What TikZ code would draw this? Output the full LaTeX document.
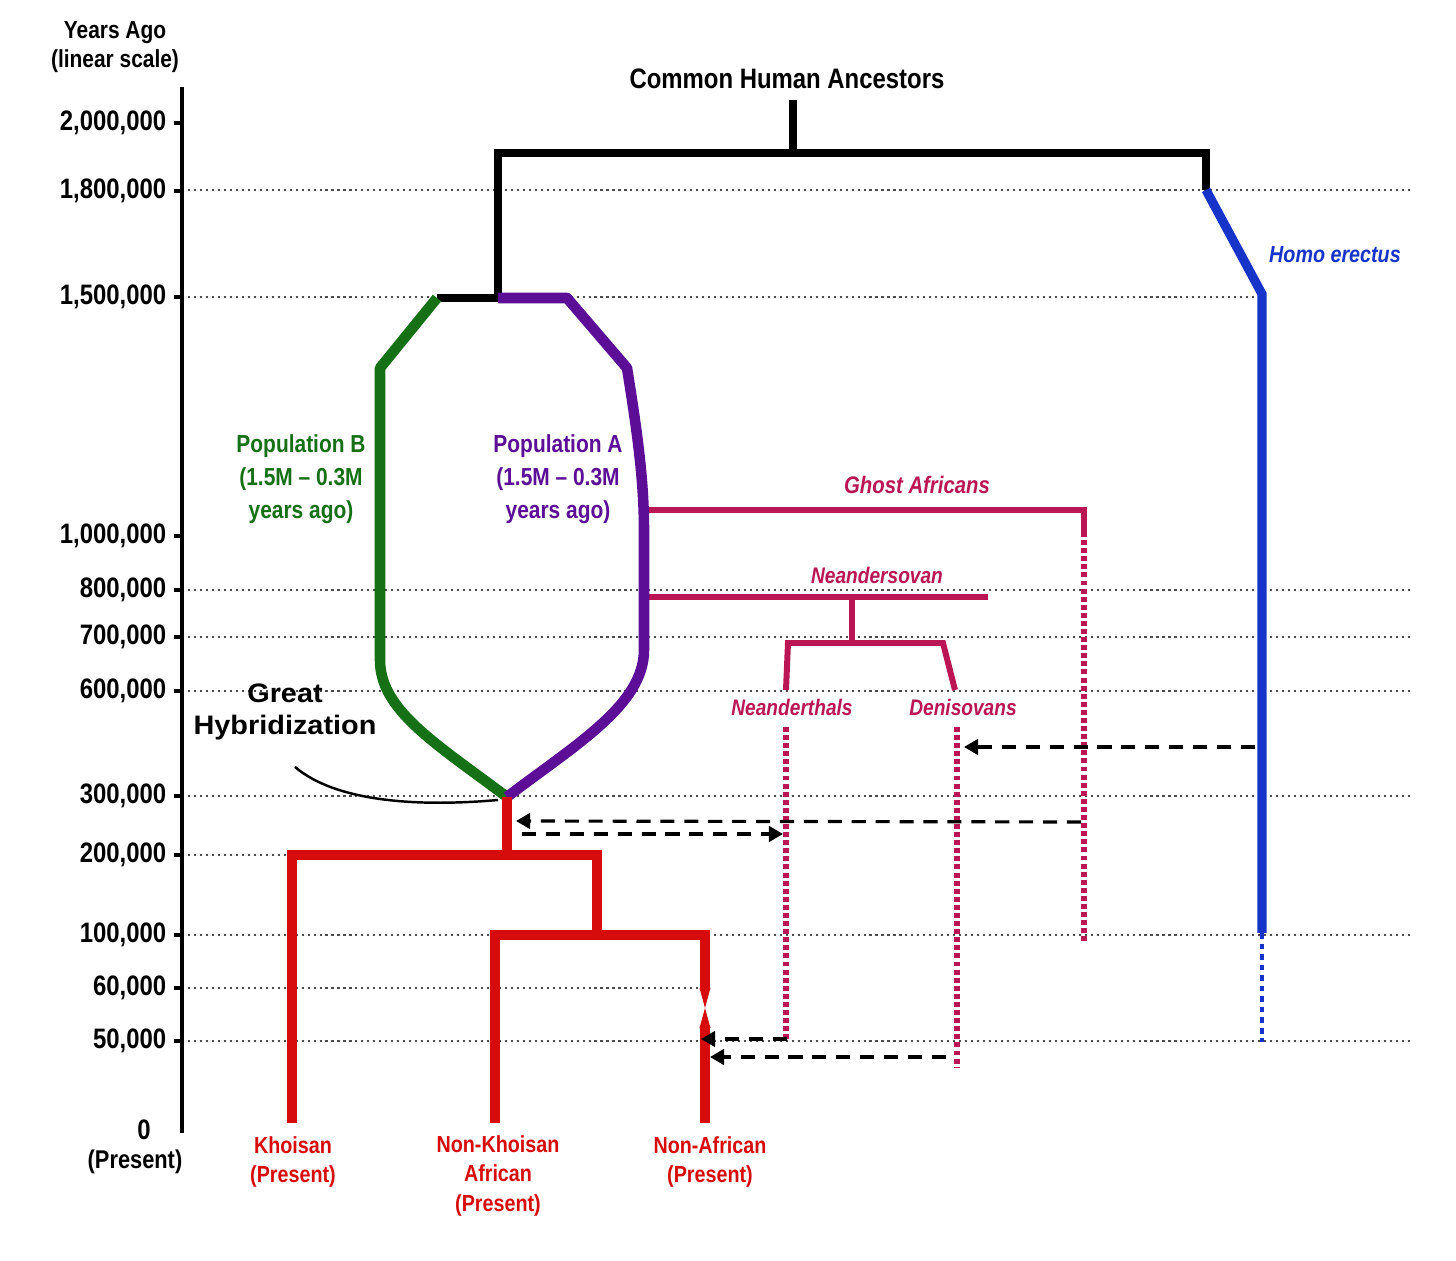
\documentclass[tikz,border=0pt]{standalone}
\usepackage{fontspec}
\setmainfont{Liberation Sans}
\newfontfamily\condfont{Liberation Sans}[FakeStretch=0.85]
\newfontfamily\widefont{Liberation Sans}[FakeStretch=1.08]
\usetikzlibrary{arrows.meta}
\definecolor{hgreen}{RGB}{22,112,22}
\definecolor{hpurple}{RGB}{92,14,150}
\definecolor{hred}{RGB}{214,12,12}
\definecolor{hpink}{RGB}{186,22,84}
\definecolor{hblue}{RGB}{22,52,200}
\tikzset{
  gridline/.style={black!70, line width=0.5pt, dash pattern=on 0.6pt off 1.1pt},
  axislabel/.style={anchor=east, inner sep=0, font=\condfont\bfseries\fontsize{8}{9}\selectfont},
  blacklabel/.style={inner sep=0, align=center, font=\condfont\bfseries\fontsize{7.3}{8.4}\selectfont},
  poplabel/.style={inner sep=0, align=center, font=\condfont\bfseries\fontsize{7}{9.4}\selectfont},
  pinklabel/.style={inner sep=0, hpink, font=\condfont\bfseries\itshape\fontsize{6.4}{7.5}\selectfont},
  sitelabel/.style={inner sep=0, align=center, hred, font=\condfont\bfseries\fontsize{6.6}{8.5}\selectfont},
  treeline/.style={line width=2.3pt, line join=miter},
  popline/.style={line width=3pt, line join=round},
  redline/.style={hred, line width=3.1pt, line join=miter},
  pinkline/.style={hpink, line width=1.7pt, line join=miter},
  pinkdots/.style={hpink, line width=1.6pt, dash pattern=on 1.4pt off 0.9pt},
  flow/.style={line width=0.9pt, dash pattern=on 4pt off 2.8pt, -{Triangle[length=4pt,width=4.4pt]}}
}

\begin{document}
\begin{tikzpicture}[x=0.01cm, y=-0.01cm]
\useasboundingbox (0,0) rectangle (1456,1261);
\fill[white] (0,0) rectangle (1456,1261);

% grid lines
\foreach \yy/\xe in {190/1412, 297/1257, 590/1412, 637/1412, 691/1412, 796/1412, 855/290, 935/1412, 988/705, 1041/1412}
  \draw[gridline] (182,\yy) -- (\xe,\yy);

% time axis
\node[blacklabel, font=\condfont\bfseries\fontsize{7}{8.3}\selectfont] (yago) at (115,47) {Years Ago\\(linear scale)};
\coordinate (axtop) at (182,87);
\coordinate (axbot) at (182,1133);
\draw[line width=1.2pt] (axtop) -- (axbot);
\foreach \yy/\lab [count=\i] in {123/{2,000,000}, 191/{1,800,000}, 297/{1,500,000}, 536/{1,000,000}, 590/{800,000}, 637/{700,000}, 691/{600,000}, 796/{300,000}, 855/{200,000}, 935/{100,000}, 988/{60,000}, 1041/{50,000}}{
  \draw[line width=1pt] (174,\yy) -- (182,\yy);
  \node[axislabel] (tick\i) at (167,\yy) {\lab};
}
\node[blacklabel, font=\condfont\bfseries\fontsize{8}{9}\selectfont] (zero) at (144,1130) {0};
\node[blacklabel] (present) at (135,1162) {(Present)};

% common ancestors
\node[blacklabel, font=\condfont\bfseries\fontsize{8}{9}\selectfont] (cha) at (787,79) {Common Human Ancestors};
\coordinate (root) at (793,100);
\coordinate (rootbar) at (793,153);
\coordinate (lbar) at (498,153);
\coordinate (rbar) at (1206,153);
\coordinate (lsplit) at (498,298);
\coordinate (bsplit) at (437,298);
\coordinate (erect) at (1206,190);
\coordinate (hyb) at (507,797);

% ghost lineages (under population A)
\coordinate (ghost) at (645,510);
\coordinate (ghostend) at (1084,510);
\draw[pinkline] (ghost) -- (ghostend) -- (1084,532) coordinate (ghostdot);
\draw[pinkdots] (ghostdot) -- (1084,943) coordinate (ghostbot);
\node[pinklabel, font=\condfont\bfseries\itshape\fontsize{6.8}{8}\selectfont] (ghostlab) at (917,485) {Ghost Africans};

\coordinate (nsov) at (645,597);
\draw[pinkline] (nsov) -- (988,597);
\draw[pinkline] (852,597) -- (852,643);
\draw[pinkline] (786,690) -- (788,643) -- (943,643) -- (955,690);
\node[pinklabel] (nsovlab) at (877,575) {Neandersovan};
\node[pinklabel] (nealab) at (792,707) {Neanderthals};
\node[pinklabel] (denlab) at (963,707) {Denisovans};
\draw[pinkdots] (786,727) coordinate (neatop) -- (786,1042) coordinate (neabot);
\draw[pinkdots] (957,727) coordinate (dentop) -- (957,1067) coordinate (denbot);

% black tree
\draw[treeline] (root) -- (rootbar);
\draw[treeline] (bsplit) -- (lsplit) -- (lbar) -- (rbar) -- (erect);

% Homo erectus
\draw[hblue, line width=2.6pt, line join=miter] (erect) -- (1262,294) -- (1262,933) coordinate (erectend);
\draw[hblue, line width=1.3pt, dash pattern=on 1.6pt off 1.4pt] (erectend) -- (1262,1042);
\node[pinklabel, hblue, font=\condfont\bfseries\itshape\fontsize{6.6}{8}\selectfont] (herect) at (1335,255) {Homo erectus};

% populations A and B
\draw[popline, hgreen] (bsplit) -- (380,368) -- (380,660) .. controls (380,710) and (435,743) .. (hyb);
\draw[popline, hpurple] (lsplit) -- (567,298) -- (627,368) .. controls (637,430) and (644,480) .. (644,530) -- (644,650) .. controls (644,705) and (575,745) .. (hyb);
\node[poplabel, hgreen] (popB) at (301,479) {Population B\\(1.5M – 0.3M\\years ago)};
\node[poplabel, hpurple] (popA) at (558,479) {Population A\\(1.5M – 0.3M\\years ago)};

% great hybridization
\node[inner sep=0, align=center, font=\widefont\bfseries\fontsize{7.6}{9}\selectfont] (ghyb) at (285,712) {Great\\Hybridization};
\draw[line width=0.7pt] (295,767) .. controls (340,805) and (430,806) .. (498,800);

% modern humans
\coordinate (msplit) at (507,855);
\draw[redline] (hyb) -- (msplit);
\draw[redline] (292,1123) coordinate (khoi) -- (292,855) -- (597,855) -- (597,935);
\draw[redline] (495,1123) coordinate (nkaf) -- (495,935) -- (705,935) -- (705,988);
\fill[hred] (699.5,988) -- (710.5,988) -- (705,1008) -- cycle;
\fill[hred] (705,1008) -- (710.5,1028) -- (699.5,1028) -- cycle;
\draw[redline] (705,1027) -- (705,1123) coordinate (naf);
\node[sitelabel] (khoilab) at (293,1162) {Khoisan\\(Present)};
\node[sitelabel] (nkaflab) at (498,1176) {Non-Khoisan\\African\\(Present)};
\node[sitelabel] (naflab) at (710,1162) {Non-African\\(Present)};

% gene flow
\draw[flow] (1255,747) coordinate (f1) -- (964,747) coordinate (f1end);
\draw[flow] (1081,822) coordinate (f2) -- (516,821) coordinate (f2end);
\draw[flow] (522,834) coordinate (f3) -- (783,834) coordinate (f3end);
\draw[flow] (787,1039) coordinate (f4) -- (701,1039) coordinate (f4end);
\draw[flow] (946,1057) coordinate (f5) -- (710,1057) coordinate (f5end);
\end{tikzpicture}
\end{document}
